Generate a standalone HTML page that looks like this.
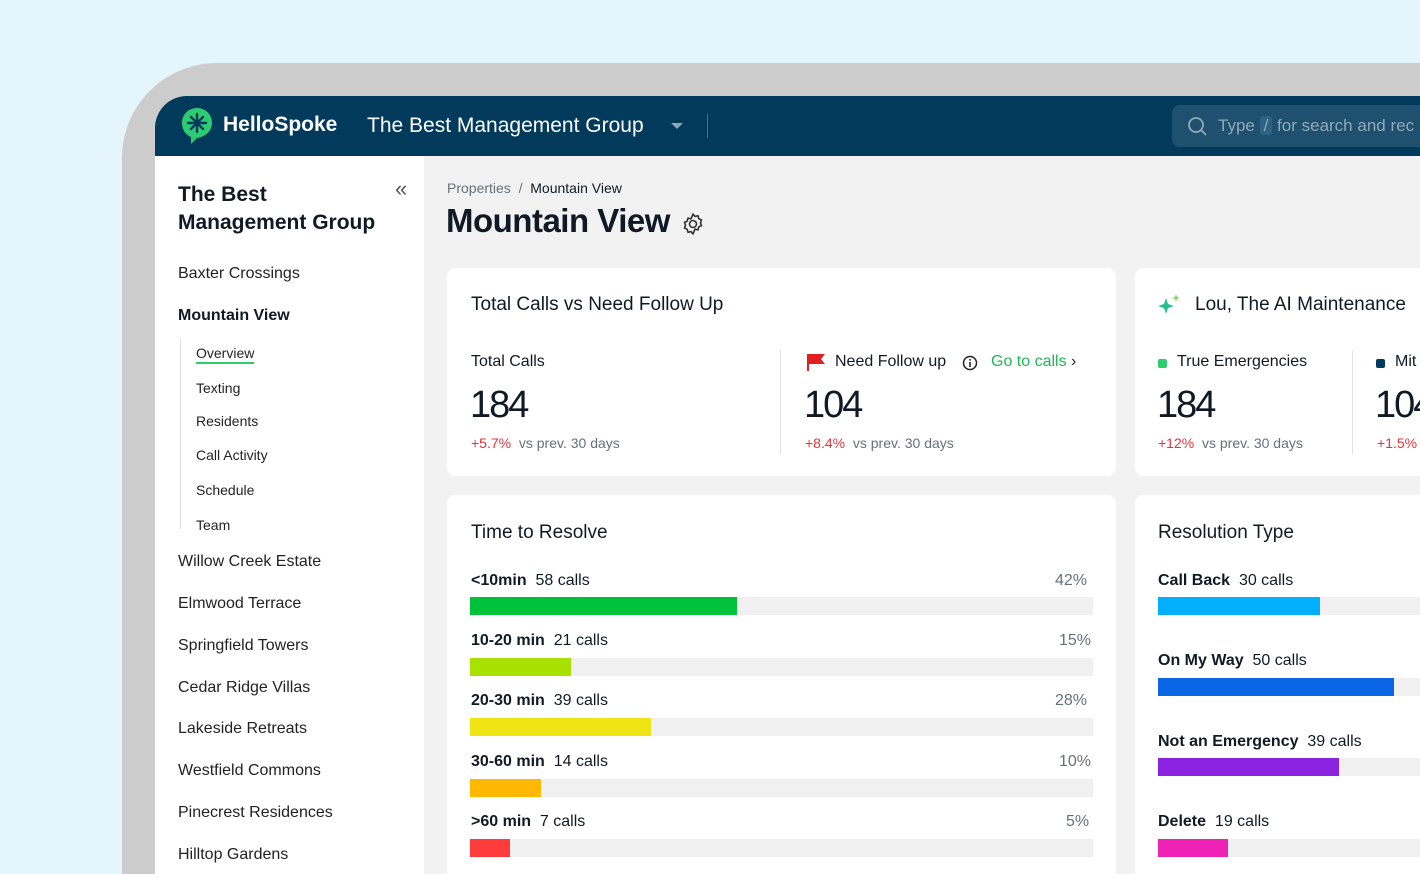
<!DOCTYPE html>
<html><head><meta charset="utf-8"><style>
*{margin:0;padding:0;box-sizing:border-box}
html{width:1420px;height:874px;overflow:hidden}
body{width:1420px;height:874px;overflow:hidden;background:#e4f6fb;font-family:"Liberation Sans",sans-serif;color:#101a26;position:relative}
.a{position:absolute;white-space:nowrap}
.frame{left:122px;top:63px;width:1298px;height:811px;background:#cccccc;border-radius:95px 0 0 0}
.screen{left:155px;top:96px;width:1265px;height:778px;background:#f2f2f2;border-radius:32px 0 0 0;overflow:hidden}
.hdr{left:0;top:0;width:1300px;height:60px;background:#023a5c}
.side{left:0;top:60px;width:269px;height:760px;background:#fff}
.card{background:#fff;border-radius:8px}
.bar{height:18px;background:#f0f0f0;width:623px}
.bar i{display:block;height:18px}
.lbl{font-size:16px;color:#101a26}
.lbl b{font-weight:bold}
.sn{font-size:16px;color:#222}
.sub{font-size:14px;color:#222}
.big{font-size:38px;letter-spacing:-2px;color:#101a26}
.red{color:#e0343b}
.grey{color:#66707a}
</style></head><body>
<div class="a frame"></div>
<div class="a screen">
 <div class="a hdr">
  <svg class="a" style="left:26px;top:11px" width="32" height="38" viewBox="0 0 32 38"><path d="M16 1C7 1 1 8 1 16c0 7 4 12 9 14l0 7 6-6c8-1 15-7 15-15C31 8 25 1 16 1z" fill="#2ecc71"/><g stroke="#023a5c" stroke-width="2.4" stroke-linecap="round"><line x1="16" y1="7" x2="16" y2="25"/><line x1="7" y1="16" x2="25" y2="16"/><line x1="10" y1="10" x2="22" y2="22"/><line x1="22" y1="10" x2="10" y2="22"/></g></svg>
  <div class="a" style="left:68px;top:17px;font-size:21px;font-weight:bold;color:#fff">HelloSpoke</div>
  <div class="a" style="left:212px;top:18px;font-size:21px;color:#fff">The Best Management Group</div>
  <div class="a" style="left:516px;top:27px;width:0;height:0;border-left:6px solid transparent;border-right:6px solid transparent;border-top:6px solid #8aa6b8"></div>
  <div class="a" style="left:552px;top:18px;width:1px;height:24px;background:#4d6f86"></div>
  <div class="a" style="left:1017px;top:9px;width:300px;height:42px;background:#1f5070;border-radius:8px"></div>
  <svg class="a" style="left:1032px;top:20px" width="20" height="20"><circle cx="9" cy="9" r="7" fill="none" stroke="#8fa9ba" stroke-width="1.8"/><line x1="14" y1="14" x2="19" y2="19" stroke="#8fa9ba" stroke-width="1.8"/></svg>
  <div class="a" style="left:1063px;top:20px;font-size:17px;color:#8fa9ba">Type <span style="background:#2e6283;border-radius:3px;padding:0 4px">/</span> for search and rec</div>
 </div>
 <div class="a side">
  <div class="a" style="left:23px;top:25px;font-size:21px;font-weight:bold;line-height:28px">The Best<br>Management Group</div>
  <div class="a" style="left:240px;top:20px;font-size:22px;color:#555">«</div>
  <div class="a sn" style="left:23px;top:109px">Baxter Crossings</div>
  <div class="a" style="left:23px;top:151px;font-size:16px;font-weight:bold">Mountain View</div>
  <div class="a" style="left:25px;top:183px;width:1px;height:190px;background:#ddd"></div>
  <div class="a sub" style="left:41px;top:189px;border-bottom:2px solid #2ecc71;padding-bottom:1px">Overview</div>
  <div class="a sub" style="left:41px;top:224px">Texting</div>
  <div class="a sub" style="left:41px;top:257px">Residents</div>
  <div class="a sub" style="left:41px;top:291px">Call Activity</div>
  <div class="a sub" style="left:41px;top:326px">Schedule</div>
  <div class="a sub" style="left:41px;top:361px">Team</div>
  <div class="a sn" style="left:23px;top:397px">Willow Creek Estate</div>
  <div class="a sn" style="left:23px;top:439px">Elmwood Terrace</div>
  <div class="a sn" style="left:23px;top:481px">Springfield Towers</div>
  <div class="a sn" style="left:23px;top:523px">Cedar Ridge Villas</div>
  <div class="a sn" style="left:23px;top:564px">Lakeside Retreats</div>
  <div class="a sn" style="left:23px;top:606px">Westfield Commons</div>
  <div class="a sn" style="left:23px;top:648px">Pinecrest Residences</div>
  <div class="a sn" style="left:23px;top:690px">Hilltop Gardens</div>
 </div>
 <div class="a" style="left:292px;top:84px;font-size:14px"><span class="grey">Properties</span> <span class="grey">&nbsp;/&nbsp;</span> Mountain View</div>
 <div class="a" style="left:291px;top:106px;font-size:33px;font-weight:bold;letter-spacing:-0.5px">Mountain View</div>
 <svg class="a" style="left:526px;top:116px" width="24" height="24" viewBox="0 0 24 24"><circle cx="12" cy="12" r="3.5" fill="none" stroke="#333" stroke-width="1.6"/><path d="M12 2l2 2.5 3-.8.8 3 2.7 1.3-1 2.8 1 2.8-2.7 1.3-.8 3-3-.8L12 22l-2-2.5-3 .8-.8-3-2.7-1.3 1-2.8-1-2.8 2.7-1.3.8-3 3 .8z" fill="none" stroke="#333" stroke-width="1.6" stroke-linejoin="round"/></svg>

 <div class="a card" style="left:292px;top:172px;width:669px;height:208px"></div>
 <div class="a" style="left:316px;top:198px;font-size:19px">Total Calls vs Need Follow Up</div>
 <div class="a" style="left:316px;top:257px;font-size:16px">Total Calls</div>
 <div class="a big" style="left:315px;top:288px">184</div>
 <div class="a" style="left:316px;top:339px;font-size:14px"><span class="red">+5.7%</span> <span class="grey">&nbsp;vs prev. 30 days</span></div>
 <div class="a" style="left:625px;top:254px;width:1px;height:104px;background:#e2e2e2"></div>
 <svg class="a" style="left:651px;top:257px" width="20" height="18"><line x1="2" y1="1" x2="2" y2="18" stroke="#e0201e" stroke-width="2"/><path d="M2 1h17l-4 5 4 5H2z" fill="#e0201e"/></svg>
 <div class="a" style="left:680px;top:257px;font-size:16px">Need Follow up</div>
 <svg class="a" style="left:807px;top:259px" width="16" height="16"><circle cx="8" cy="8" r="6.5" fill="none" stroke="#222" stroke-width="1.5"/><rect x="7.2" y="7" width="1.6" height="5" fill="#222"/><rect x="7.2" y="4" width="1.6" height="1.6" fill="#222"/></svg>
 <div class="a" style="left:836px;top:257px;font-size:16px;color:#1db954">Go to calls <span style="color:#222">›</span></div>
 <div class="a big" style="left:649px;top:288px">104</div>
 <div class="a" style="left:650px;top:339px;font-size:14px"><span class="red">+8.4%</span> <span class="grey">&nbsp;vs prev. 30 days</span></div>

 <div class="a card" style="left:980px;top:172px;width:400px;height:208px"></div>
 <svg class="a" style="left:1002px;top:197px" width="24" height="22"><path d="M9 5l2 6 6 2-6 2-2 6-2-6-6-2 6-2z" fill="#22c08a"/><path d="M19 1l1 3 3 1-3 1-1 3-1-3-3-1 3-1z" fill="#7ed957"/></svg>
 <div class="a" style="left:1040px;top:198px;font-size:19px">Lou, The AI Maintenance</div>
 <div class="a" style="left:1003px;top:263px;width:9px;height:9px;background:#2ecc71;border-radius:2px"></div>
 <div class="a" style="left:1022px;top:257px;font-size:16px">True Emergencies</div>
 <div class="a big" style="left:1002px;top:288px">184</div>
 <div class="a" style="left:1003px;top:339px;font-size:14px"><span class="red">+12%</span> <span class="grey">&nbsp;vs prev. 30 days</span></div>
 <div class="a" style="left:1197px;top:254px;width:1px;height:104px;background:#e2e2e2"></div>
 <div class="a" style="left:1221px;top:263px;width:9px;height:9px;background:#023a5c;border-radius:2px"></div>
 <div class="a" style="left:1240px;top:257px;font-size:16px">Mit</div>
 <div class="a big" style="left:1220px;top:288px">104</div>
 <div class="a" style="left:1222px;top:339px;font-size:14px"><span class="red">+1.5%</span></div>

 <div class="a card" style="left:292px;top:399px;width:669px;height:420px"></div>
 <div class="a" style="left:316px;top:426px;font-size:19px">Time to Resolve</div>
 <div class="a lbl" style="left:316px;top:476px"><b>&lt;10min</b>&nbsp; 58 calls</div><div class="a lbl grey" style="left:900px;top:476px">42%</div>
 <div class="a bar" style="left:315px;top:501px"><i style="width:267px;background:#00c23a"></i></div>
 <div class="a lbl" style="left:316px;top:536px"><b>10-20 min</b>&nbsp; 21 calls</div><div class="a lbl grey" style="left:904px;top:536px">15%</div>
 <div class="a bar" style="left:315px;top:562px"><i style="width:101px;background:#a8e000"></i></div>
 <div class="a lbl" style="left:316px;top:596px"><b>20-30 min</b>&nbsp; 39 calls</div><div class="a lbl grey" style="left:900px;top:596px">28%</div>
 <div class="a bar" style="left:315px;top:622px"><i style="width:181px;background:#f0e514"></i></div>
 <div class="a lbl" style="left:316px;top:657px"><b>30-60 min</b>&nbsp; 14 calls</div><div class="a lbl grey" style="left:904px;top:657px">10%</div>
 <div class="a bar" style="left:315px;top:683px"><i style="width:71px;background:#ffb800"></i></div>
 <div class="a lbl" style="left:316px;top:717px"><b>&gt;60 min</b>&nbsp; 7 calls</div><div class="a lbl grey" style="left:911px;top:717px">5%</div>
 <div class="a bar" style="left:315px;top:743px"><i style="width:40px;background:#ff3b3b"></i></div>

 <div class="a card" style="left:980px;top:399px;width:400px;height:420px"></div>
 <div class="a" style="left:1003px;top:426px;font-size:19px">Resolution Type</div>
 <div class="a lbl" style="left:1003px;top:476px"><b>Call Back</b>&nbsp; 30 calls</div>
 <div class="a bar" style="left:1003px;top:501px;width:400px"><i style="width:162px;background:#00b0ff"></i></div>
 <div class="a lbl" style="left:1003px;top:556px"><b>On My Way</b>&nbsp; 50 calls</div>
 <div class="a bar" style="left:1003px;top:582px;width:400px"><i style="width:236px;background:#0a66e4"></i></div>
 <div class="a lbl" style="left:1003px;top:637px"><b>Not an Emergency</b>&nbsp; 39 calls</div>
 <div class="a bar" style="left:1003px;top:662px;width:400px"><i style="width:181px;background:#8a22e0"></i></div>
 <div class="a lbl" style="left:1003px;top:717px"><b>Delete</b>&nbsp; 19 calls</div>
 <div class="a bar" style="left:1003px;top:743px;width:400px"><i style="width:70px;background:#ee22b5"></i></div>
</div>
</body></html>
